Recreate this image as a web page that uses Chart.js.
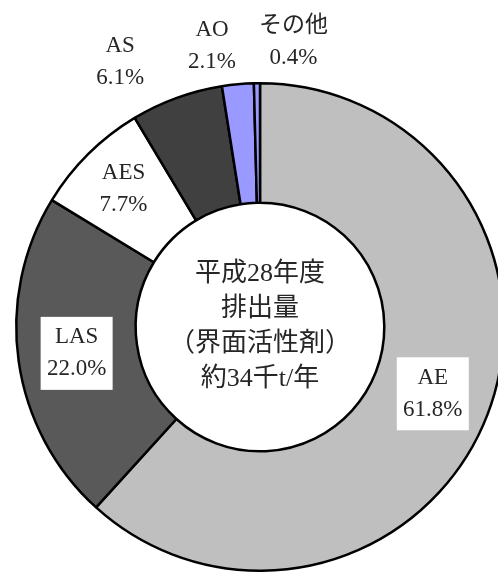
<!DOCTYPE html>
<html lang="ja">
<head>
    <meta charset="UTF-8">
    <title>界面活性剤 排出量</title>
    <script src="https://cdn.jsdelivr.net/npm/chart.js"></script>
    <style>
        html, body {
            margin: 0;
            padding: 0;
            background: #fff;
            overflow: hidden;
        }
        #wrap {
            width: 498px;
            height: 572px;
            overflow: hidden;
            position: relative;
        }
        canvas {
            position: absolute;
            left: 0;
            top: 0;
        }
    </style>
</head>
<body>
    <div id="wrap">
        <canvas id="donut" width="520" height="580"></canvas>
    </div>

    <script>
        // data (percent of total emission)
        const categories = ['AE', 'LAS', 'AES', 'AS', 'AO', 'その他'];
        const shares = [61.8, 22.0, 7.7, 6.1, 2.1, 0.4];
        const colors = ['#bfbfbf', '#595959', '#ffffff', '#404040', '#9999ff', '#9999ff'];
        const centerLines = ['平成28年度', '排出量', '（界面活性剤）', '約34千t/年'];

        // label placement: radius factor of outer radius, nudge x/y, boxed or not
        const labelPlace = [
            { k: 0.76, dx: 0, dy: 0, box: true },
            { k: 0.76, dx: 0, dy: 0, box: true },
            { k: 0.795, dx: 0, dy: 0, box: false },
            { k: 1.2, dx: -40, dy: 10, box: false },
            { k: 1.17, dx: -22, dy: 3, box: false },
            { k: 1.17, dx: 37, dy: 0, box: false }
        ];

        const FONT_LABEL = '23px "Liberation Serif", "Noto Sans CJK JP"';
        const FONT_CENTER = '26px "Liberation Serif", "Noto Sans CJK JP"';
        const TEXT = '#262626';

        const labelPlugin = {
            id: 'donutLabels',
            afterDatasetsDraw(chart) {
                const ctx = chart.ctx;
                const arcs = chart.getDatasetMeta(0).data;
                ctx.save();
                ctx.textAlign = 'center';
                ctx.textBaseline = 'middle';

                arcs.forEach((arc, i) => {
                    const p = arc.getProps(['x', 'y', 'startAngle', 'endAngle', 'outerRadius'], true);
                    const mid = (p.startAngle + p.endAngle) / 2;
                    const pl = labelPlace[i];
                    const r = p.outerRadius * pl.k;
                    const cx = p.x + Math.cos(mid) * r + pl.dx;
                    const cy = p.y + Math.sin(mid) * r + pl.dy;

                    if (pl.box) {
                        ctx.fillStyle = '#fff';
                        ctx.fillRect(cx - 36, cy - 36.5, 72, 73);
                    }
                    ctx.fillStyle = TEXT;
                    ctx.font = FONT_LABEL;
                    ctx.fillText(categories[i], cx, cy - 16);
                    ctx.fillText(shares[i].toFixed(1) + '%', cx, cy + 16);
                });

                // centre caption
                const c = arcs[0];
                ctx.font = FONT_CENTER;
                ctx.fillStyle = TEXT;
                const step = 35;
                const y0 = c.y - step * (centerLines.length - 1) / 2;
                centerLines.forEach((t, j) => {
                    ctx.fillText(t, c.x, y0 + j * step);
                });
                ctx.restore();
            }
        };

        new Chart(document.getElementById('donut'), {
            type: 'doughnut',
            data: {
                labels: categories,
                datasets: [{
                    data: shares,
                    backgroundColor: colors,
                    borderColor: '#000',
                    borderWidth: 2.5
                }]
            },
            options: {
                responsive: false,
                animation: false,
                cutout: '51%',
                layout: {
                    padding: { left: 15, top: 82, right: 15, bottom: 8 }
                },
                plugins: {
                    legend: { display: false },
                    tooltip: { enabled: false }
                }
            },
            plugins: [labelPlugin]
        });
    </script>
</body>
</html>
